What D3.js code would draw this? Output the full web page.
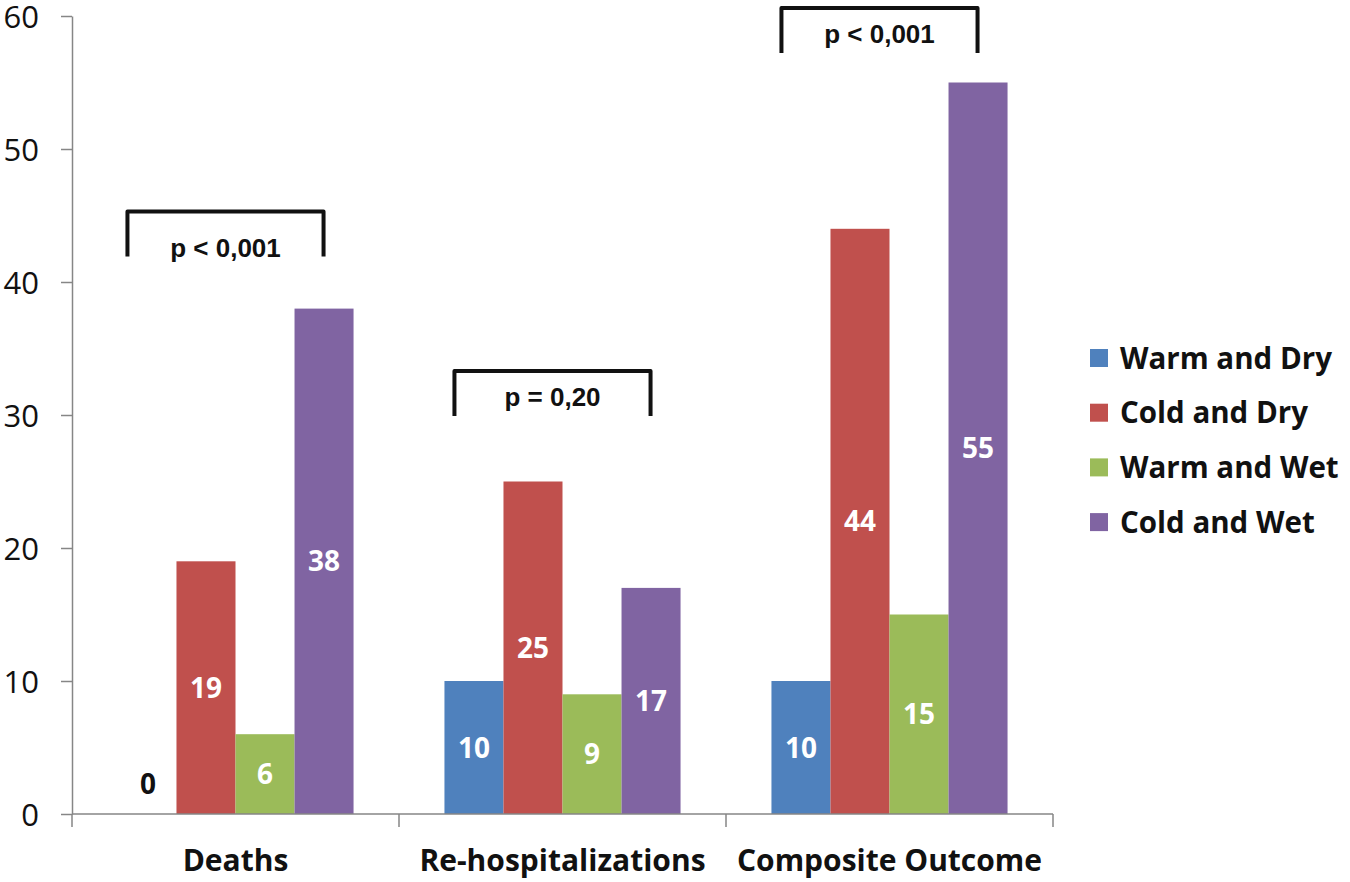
<!DOCTYPE html>
<html>
<head>
<meta charset="utf-8">
<script src="https://cdn.jsdelivr.net/npm/d3@7"></script>
<style>
  html, body { margin: 0; padding: 0; background: #fff; }
  svg { display: block; }
</style>
</head>
<body>
<div id="chart"></div>
<script>
// --- Data ---
const categories = ['Deaths', 'Re-hospitalizations', 'Composite Outcome'];
const seriesNames = ['Warm and Dry', 'Cold and Dry', 'Warm and Wet', 'Cold and Wet'];
const seriesColors = ['#4F81BD', '#C0504D', '#9BBB59', '#8064A2'];
const warmDry = [0, 10, 10];
const coldDry = [19, 25, 44];
const warmWet = [6, 9, 15];
const coldWet = [38, 17, 55];
const yTicks = [0, 10, 20, 30, 40, 50, 60];
const pLabels = ['p < 0,001', 'p = 0,20', 'p < 0,001'];
const bracketLevels = [45.3, 33.3, 60.6]; // y value of bracket tops

(function () {
  'use strict';

  const W = 1350, H = 882;
  const values = [warmDry, coldDry, warmWet, coldWet];
  const FONT = '"Open Sans", Lato, sans-serif';

  const svg = d3.select('#chart').append('svg')
    .attr('width', W).attr('height', H);

  // Scales
  const pad = 0.278;
  const x0 = d3.scaleBand().domain(categories).range([72, 1053])
    .paddingInner(pad).paddingOuter(pad / 2);
  const x1 = d3.scaleBand().domain(seriesNames).range([0, x0.bandwidth()]);
  const y = d3.scaleLinear().domain([0, 60]).range([814, 16]);

  // Y axis
  const yAxis = svg.append('g')
    .attr('transform', 'translate(72,0)')
    .call(d3.axisLeft(y).tickValues(yTicks).tickSize(11).tickSizeOuter(0).tickPadding(22));
  yAxis.select('.domain').attr('stroke', '#868686').attr('stroke-width', 1.5);
  yAxis.selectAll('.tick line').attr('stroke', '#868686').attr('stroke-width', 1.5);
  yAxis.selectAll('.tick text')
    .attr('font-family', FONT).attr('font-size', 31).attr('fill', '#111')
    .attr('dy', '0.36em');

  // Bars
  const groups = svg.append('g').selectAll('g')
    .data(categories).join('g')
    .attr('transform', d => `translate(${x0(d)},0)`);

  groups.each(function (cat, ci) {
    const g = d3.select(this);
    seriesNames.forEach((s, si) => {
      const v = values[si][ci];
      g.append('rect')
        .attr('x', x1(s)).attr('width', x1.bandwidth())
        .attr('y', y(v)).attr('height', y(0) - y(v))
        .attr('fill', seriesColors[si]);
      const ly = v === 0 ? y(0) - 30 : (y(v) + y(0)) / 2;
      g.append('text')
        .attr('x', x1(s) + x1.bandwidth() / 2 + (v === 0 ? 1 : 0))
        .attr('y', ly)
        .attr('dy', '0.36em')
        .attr('text-anchor', 'middle')
        .attr('font-family', FONT).attr('font-weight', 'bold').attr('font-size', 28)
        .attr('fill', v === 0 ? '#111' : '#fff')
        .text(v);
    });
  });

  // X axis
  const xAxis = svg.append('g').attr('transform', `translate(0,${y(0)})`);
  xAxis.append('line')
    .attr('x1', 72).attr('x2', 1053)
    .attr('stroke', '#868686').attr('stroke-width', 1.5);
  const half = x0.step() * pad / 2;
  const bounds = [x0(categories[0]) - half].concat(categories.map(c => x0(c) + x0.bandwidth() + half));
  xAxis.selectAll('line.tk').data(bounds).join('line')
    .attr('class', 'tk')
    .attr('x1', d => d).attr('x2', d => d).attr('y1', 0).attr('y2', 13)
    .attr('stroke', '#868686').attr('stroke-width', 1.5);
  xAxis.selectAll('text').data(categories).join('text')
    .attr('x', d => x0(d) + x0.bandwidth() / 2)
    .attr('y', 46)
    .attr('dy', '0.36em')
    .attr('text-anchor', 'middle')
    .attr('font-family', FONT).attr('font-weight', 'bold').attr('font-size', 30)
    .attr('fill', '#111')
    .text(d => d);

  // Significance brackets
  const br = svg.append('g');
  categories.forEach((c, i) => {
    const left = x0(c) + 10;
    const right = x0(c) + x0.bandwidth() - 30;
    const top = y(bracketLevels[i]);
    br.append('path')
      .attr('d', `M${left},${top + 45}V${top}H${right}V${top + 45}`)
      .attr('fill', 'none').attr('stroke', '#111').attr('stroke-width', 4)
      .attr('stroke-linejoin', 'round');
    br.append('text')
      .attr('x', (left + right) / 2)
      .attr('y', top + (i === 0 ? 36 : 26))
      .attr('dy', '0.36em')
      .attr('text-anchor', 'middle')
      .attr('font-family', '"Liberation Sans", Arial, sans-serif')
      .attr('font-weight', 'bold').attr('font-size', 26)
      .attr('fill', '#111')
      .text(pLabels[i]);
  });

  // Legend
  const legend = svg.append('g').attr('transform', 'translate(1090,358)');
  const items = legend.selectAll('g').data(seriesNames).join('g')
    .attr('transform', (d, i) => `translate(0,${i * 54.7})`);
  items.append('rect')
    .attr('x', 0).attr('y', -9).attr('width', 18).attr('height', 18)
    .attr('fill', (d, i) => seriesColors[i]);
  items.append('text')
    .attr('x', 30).attr('y', 0).attr('dy', '0.36em')
    .attr('font-family', FONT).attr('font-weight', 'bold').attr('font-size', 29.5)
    .attr('fill', '#111')
    .text(d => d);
})();
</script>
</body>
</html>
